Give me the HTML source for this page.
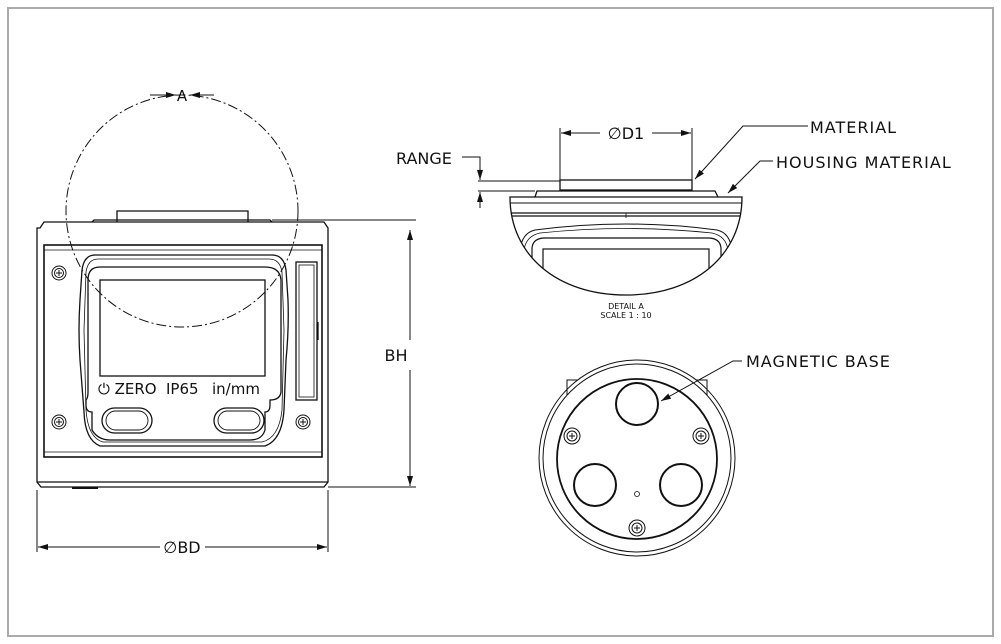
<!DOCTYPE html>
<html><head><meta charset="utf-8"><style>
html,body{margin:0;padding:0;background:#fff}
svg{display:block}
text{font-family:"DejaVu Sans","Liberation Sans",sans-serif;fill:#111}
</style></head><body>
<svg width="1001" height="644" viewBox="0 0 1001 644" xmlns="http://www.w3.org/2000/svg">
<defs>
<marker id="ar" viewBox="0 0 10 6" refX="10" refY="3" markerWidth="10" markerHeight="6" orient="auto-start-reverse" markerUnits="userSpaceOnUse"><path d="M0,0L10,3L0,6z" fill="#111"/></marker>
<clipPath id="dome"><path d="M510,197 H742 C742,255 695,295 626,295 C557,295 510,255 510,197 Z"/></clipPath>
</defs>
<rect x="8" y="8" width="985" height="628" fill="none" stroke="#aaa" stroke-width="2"/>
<g fill="none" stroke="#111" stroke-width="1.3">
<!-- front view body -->
<path d="M117,222 V211 H248 V222"/>
<path d="M92,222 L94,220 H270 L272,222"/>
<path d="M40,228 L44,222 H324 L328,228 V482 L324,487 H41 L37,482 V228 Z"/>
<line x1="37" y1="482" x2="328" y2="482"/>
<rect x="44" y="245" width="278" height="212" stroke-width="1.6"/>
<line x1="44" y1="250" x2="322" y2="250" stroke-width="0.8"/>
<line x1="44" y1="452" x2="322" y2="452" stroke-width="0.8"/>
<line x1="72" y1="488" x2="98" y2="488" stroke-width="2"/>
<!-- bezel -->
<path d="M95,255 H272 Q284,255 286,270 L288,300 Q289,330 286,360 L284,410 Q282,440 265,446 H100 Q85,440 84,412 L80,360 Q78,330 80,300 L82,270 Q84,255 95,255 Z"/>
<path d="M98,259 H269 Q280,259 282,272 L284,330 L282,410 Q279,438 262,442 H103 Q88,438 86,410 L84,330 L86,272 Q88,259 98,259 Z" stroke-width="0.8"/>
<path d="M100,267 H265 Q280,267 281,280 V392 Q280,400 270,400 V405 Q270,412 265,412 V430 Q262,440 250,440 H110 Q98,440 92,430 V412 Q86,412 86,405 V400 Q88,398 88,392 V280 Q88,267 100,267 Z"/>
<rect x="100" y="280" width="165" height="96"/>
<rect x="102" y="408" width="50" height="25" rx="12.5"/>
<rect x="106" y="411" width="42" height="19" rx="9.5" stroke-width="0.9"/>
<rect x="214" y="408" width="50" height="25" rx="12.5"/>
<rect x="218" y="411" width="42" height="19" rx="9.5" stroke-width="0.9"/>
<rect x="296" y="262" width="21" height="138"/>
<rect x="299" y="265" width="15" height="132" stroke-width="0.8"/>
<line x1="318" y1="322" x2="318" y2="340"/>
<!-- screws -->
<g stroke-width="1">
<circle cx="59" cy="273" r="7"/><circle cx="59" cy="273" r="4.5"/><path d="M59,270V276M56,273H62"/>
<circle cx="59" cy="422" r="7"/><circle cx="59" cy="422" r="4.5"/><path d="M59,419V425M56,422H62"/>
<circle cx="303" cy="422" r="7"/><circle cx="303" cy="422" r="4.5"/><path d="M303,419V425M300,422H306"/>
</g>
<!-- detail circle -->
<circle cx="182" cy="211" r="116" stroke-dasharray="10,3,2,3" stroke-width="1"/>
<!-- dimensions front -->
<line x1="272" y1="220" x2="416" y2="220" stroke-width="1"/>
<line x1="328" y1="487" x2="416" y2="487" stroke-width="1"/>
<line x1="410" y1="230" x2="410" y2="340" stroke-width="1" marker-start="url(#ar)"/>
<line x1="410" y1="370" x2="410" y2="486" stroke-width="1" marker-end="url(#ar)"/>
<line x1="37" y1="490" x2="37" y2="552" stroke-width="1"/>
<line x1="328" y1="490" x2="328" y2="552" stroke-width="1"/>
<line x1="38" y1="547" x2="160" y2="547" stroke-width="1" marker-start="url(#ar)"/>
<line x1="205" y1="547" x2="327" y2="547" stroke-width="1" marker-end="url(#ar)"/>
<line x1="150" y1="95" x2="176" y2="95" stroke-width="1" marker-end="url(#ar)"/>
<line x1="214" y1="95" x2="190" y2="95" stroke-width="1" marker-end="url(#ar)"/>

<!-- detail A -->
<path d="M510,197 H742 C742,255 695,295 626,295 C557,295 510,255 510,197 Z"/>
<g clip-path="url(#dome)">
<line x1="505" y1="203" x2="745" y2="203" stroke-width="1"/>
<line x1="505" y1="213" x2="745" y2="213"/>
<line x1="505" y1="216" x2="745" y2="216"/>
<path d="M520,250 Q522,233 535,230 Q626,218 717,230 Q730,233 732,250" stroke-width="1"/>
<path d="M524,250 Q526,236 540,233 Q626,224 712,233 Q726,236 728,250" stroke-width="0.8"/>
<path d="M532,300 V248 Q533,238 545,238 H708 Q720,238 721,248 V300" stroke-width="1.2"/>
<rect x="543" y="249" width="166" height="60" stroke-width="1.2"/>
<line x1="626" y1="213" x2="626" y2="218" stroke-width="0.8"/>
</g>
<path d="M535,197 L537,191 H715 L718,197"/>
<rect x="560" y="180" width="132" height="10"/>
<line x1="560" y1="128" x2="560" y2="180" stroke-width="1"/>
<line x1="692" y1="128" x2="692" y2="180" stroke-width="1"/>
<line x1="561" y1="133" x2="600" y2="133" stroke-width="1" marker-start="url(#ar)"/>
<line x1="652" y1="133" x2="691" y2="133" stroke-width="1" marker-end="url(#ar)"/>
<line x1="478" y1="181" x2="560" y2="181" stroke-width="1"/>
<line x1="478" y1="191" x2="535" y2="191" stroke-width="1"/>
<path d="M462,157 H480 V180" stroke-width="1" marker-end="url(#ar)"/>
<line x1="480" y1="208" x2="480" y2="192" stroke-width="1" marker-end="url(#ar)"/>
<path d="M808,126 H743 L695,179" stroke-width="1" marker-end="url(#ar)"/>
<path d="M773,161 H760 L728,193" stroke-width="1" marker-end="url(#ar)"/>

<!-- bottom view -->
<path d="M567,395 V380 H578" stroke-width="1"/>
<path d="M707,395 V380 H696" stroke-width="1"/>
<circle cx="637" cy="458" r="98" stroke-width="1"/>
<circle cx="637" cy="458" r="94" stroke-width="1"/>
<circle cx="637" cy="459" r="80" stroke-width="1.8"/>
<circle cx="637" cy="404" r="21" stroke-width="2"/>
<circle cx="595" cy="485" r="21" stroke-width="2"/>
<circle cx="681" cy="485" r="21" stroke-width="2"/>
<circle cx="637" cy="494" r="2.5" stroke-width="0.8"/>
<g stroke-width="1">
<circle cx="572" cy="436" r="8"/><circle cx="572" cy="436" r="5"/><path d="M572,433V439M569,436H575"/>
<circle cx="701" cy="436" r="8"/><circle cx="701" cy="436" r="5"/><path d="M701,433V439M698,436H704"/>
<circle cx="637" cy="528" r="8"/><circle cx="637" cy="528" r="5"/><path d="M637,525V531M634,528H640"/>
</g>
<path d="M742,361 H733 L661,401" stroke-width="1" marker-end="url(#ar)"/>
</g>
<g font-size="16">
<text x="182" y="101" text-anchor="middle" font-size="15">A</text>
<text x="396" y="361" text-anchor="middle">BH</text>
<text x="182" y="553" text-anchor="middle">∅BD</text>
<text x="626" y="139" text-anchor="middle">∅D1</text>
<text x="396" y="164">RANGE</text>
<text x="810" y="133" letter-spacing="1">MATERIAL</text>
<text x="776" y="168" letter-spacing="1">HOUSING  MATERIAL</text>
<text x="746" y="367" letter-spacing="1">MAGNETIC  BASE</text>
</g>
<text x="626" y="309" font-size="8" text-anchor="middle">DETAIL  A</text>
<text x="626" y="318" font-size="8" text-anchor="middle">SCALE  1  :  10</text>
<text x="98" y="394" font-size="15" font-family="Liberation Sans Narrow,Liberation Sans,sans-serif">⏻ ZERO</text>
<text x="166" y="394" font-size="15">IP65</text>
<text x="212" y="394" font-size="15">in/mm</text>
</svg>
</body></html>
